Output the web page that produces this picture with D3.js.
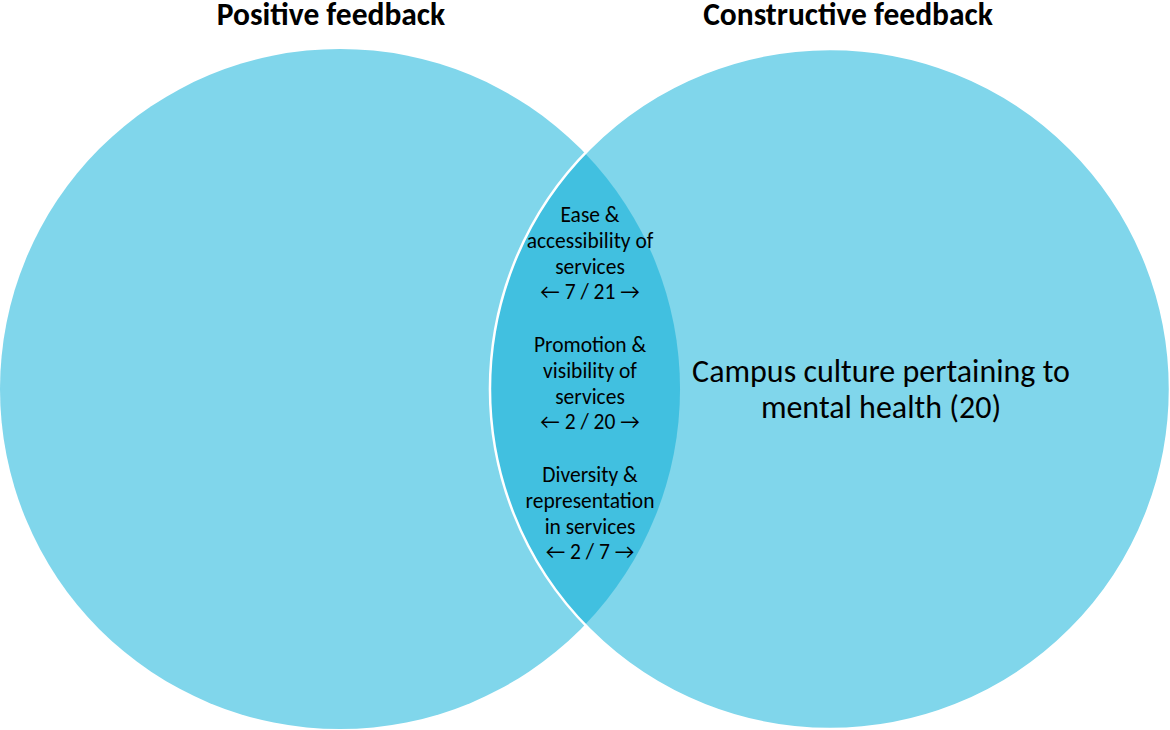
<!DOCTYPE html>
<html>
<head>
<meta charset="utf-8">
<script src="https://cdn.jsdelivr.net/npm/d3@7"></script>
<style>
  html, body { margin: 0; padding: 0; background: #fff; }
  svg { display: block; }
</style>
</head>
<body>
<div id="chart"></div>
<script>
// sets of the diagram
const setNames = ["Positive feedback", "Constructive feedback"];
// items shared by both sets : [label lines, positive count, constructive count]
const sharedItems = [
  { lines: ["Ease &", "accessibility of", "services"], pos: 7, con: 21 },
  { lines: ["Promotion &", "visibility of", "services"], pos: 2, con: 20 },
  { lines: ["Diversity &", "representation", "in services"], pos: 2, con: 7 }
];
// items only in constructive feedback
const constructiveOnly = [
  { lines: ["Campus culture pertaining to", "mental health (20)"] }
];

const W = 1170, H = 730;
const font = "Carlito, Calibri, 'Open Sans', sans-serif";

const svg = d3.select("#chart").append("svg")
  .attr("width", W).attr("height", H);

// unit space: circles of radius 1, centres 1.441 apart
const x = d3.scaleLinear().domain([-1, 2.441]).range([0, 1170]);
const k = x(1) - x(0);
const y = d => 389 + d * k;
const r = k;

const cx = [x(0), x(1.441)];
const cy = y(0);

// lens path
const d = cx[1] - cx[0];
const a = d / 2;
const h = Math.sqrt(r * r - a * a);
const ix = cx[0] + a;
const lens = `M${ix},${cy - h} A${r},${r} 0 0,1 ${ix},${cy + h} A${r},${r} 0 0,1 ${ix},${cy - h} Z`;

svg.selectAll("circle.set")
  .data(setNames)
  .enter().append("circle")
  .attr("class", "set")
  .attr("cx", (s, i) => cx[i])
  .attr("cy", cy)
  .attr("r", r)
  .attr("fill", "#80d6eb");

svg.append("path").attr("d", lens).attr("fill", "#41c0e0");

// white rim of the right circle
svg.append("circle")
  .attr("cx", cx[1]).attr("cy", cy).attr("r", r)
  .attr("fill", "none")
  .attr("stroke", "#fff")
  .attr("stroke-width", 2.5);

// titles
svg.selectAll("text.title")
  .data(setNames)
  .enter().append("text")
  .attr("class", "title")
  .attr("x", (s, i) => i === 0 ? 331 : 848)
  .attr("y", 25)
  .attr("text-anchor", "middle")
  .attr("font-family", font)
  .attr("font-weight", "700")
  .attr("font-size", "31.5px")
  .attr("fill", "#000")
  .text(s => s);

// shared items in the lens
const lineH = 25.8;
const blockTop = [222, 352, 482];
sharedItems.forEach((it, bi) => {
  const lines = it.lines.concat([`\u2190 ${it.pos} / ${it.con} \u2192`]);
  svg.append("g").selectAll("text")
    .data(lines)
    .enter().append("text")
    .attr("x", 590)
    .attr("y", (t, i) => blockTop[bi] + i * lineH)
    .attr("text-anchor", "middle")
    .attr("font-family", font)
    .attr("font-size", "21.5px")
    .attr("fill", "#000")
    .text(t => t);
});

// constructive only
constructiveOnly.forEach(it => {
  svg.append("g").selectAll("text")
    .data(it.lines)
    .enter().append("text")
    .attr("x", 881)
    .attr("y", (t, i) => 382 + i * 36)
    .attr("text-anchor", "middle")
    .attr("font-family", font)
    .attr("font-size", "32px")
    .attr("fill", "#000")
    .text(t => t);
});
</script>
</body>
</html>
